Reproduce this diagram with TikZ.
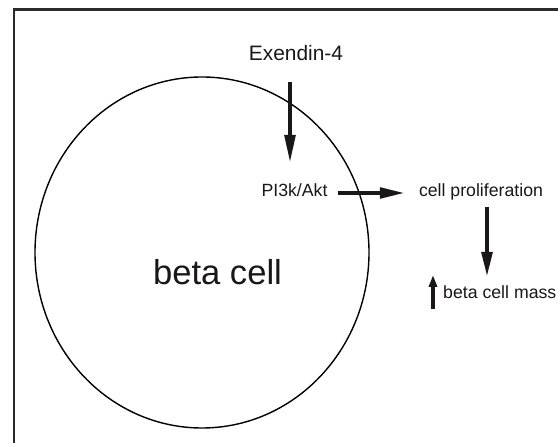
\documentclass[tikz,border=0pt]{standalone}
\usepackage{fontspec}
\setmainfont{Liberation Sans}
\usetikzlibrary{arrows.meta,shapes.geometric}
\definecolor{ink}{HTML}{1A1718}
\definecolor{framegray}{HTML}{2B2B2B}
\tikzset{
  lbl/.style={inner sep=0pt, text=ink, font=\fontsize{17.7}{20}\selectfont},
  bigarrow/.style={draw=ink, line width=4pt,
    -{Triangle[length=25pt, width=10.5pt]}},
  tinyarrow/.style={draw=ink, line width=3.2pt,
    -{Triangle[length=12pt, width=8pt]}},
}
\begin{document}
\begin{tikzpicture}[x=1pt, y=-1pt]
  \useasboundingbox (0,0) rectangle (558,443);
  \clip (0,0) rectangle (558,443);

  % open frame running off the page at right and bottom
  \draw[framegray, line width=2.6pt] (14,460) -- (14,9.3) -- (580,9.3);

  % the cell
  \node[ellipse, draw=black, line width=1.4pt, inner sep=0pt,
        minimum width=334pt, minimum height=351pt] (cell) at (202,252.5) {};
  \node[lbl, anchor=base, font=\fontsize{34.6}{40}\selectfont] (beta) at (217.5,285) {beta cell};

  % labels
  \node[lbl, anchor=base, font=\fontsize{20.9}{24}\selectfont] (ex) at (296,61) {Exendin-4};
  \node[lbl, anchor=base] (pi) at (294.5,197) {PI3k/Akt};
  \node[lbl, anchor=base] (cp) at (481,197) {cell proliferation};
  \node[lbl, anchor=base west] (mass) at (443,299) {beta cell mass};

  % signalling arrows
  \draw[draw=ink, line width=4pt, -{Triangle[length=28pt, width=10.5pt]},
        shorten <=21pt, shorten >=21pt]
    ([xshift=-6pt]ex.south) -- ([xshift=-6pt]ex.south |- pi.north);
  \draw[bigarrow, shorten <=10pt, shorten >=14pt]
    ([yshift=4pt]pi.base east) -- ([yshift=4pt]pi.base east -| cp.west);
  \draw[bigarrow, shorten <=6pt, shorten >=9pt]
    ([xshift=6pt]cp.south) -- ([xshift=6pt]cp.south |- mass.north);

  % increase marker in front of the mass label
  \draw[tinyarrow] ([xshift=-10pt, yshift=-10pt]mass.base west)
    -- ([xshift=-10pt, yshift=24pt]mass.base west);
\end{tikzpicture}
\end{document}
